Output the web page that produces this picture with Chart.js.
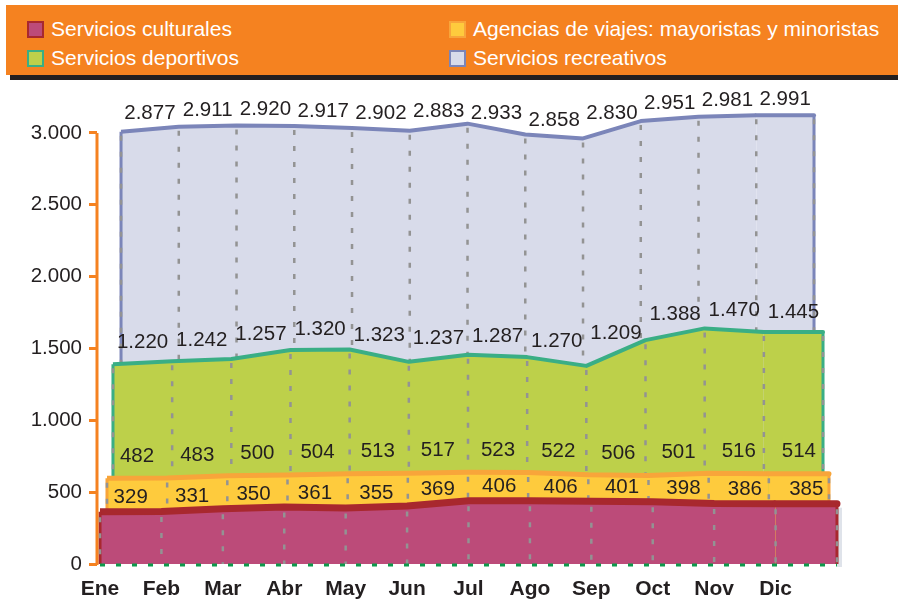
<!DOCTYPE html>
<html lang="es">
<head>
<meta charset="utf-8">
<script src="https://cdn.jsdelivr.net/npm/chart.js@4.4.1/dist/chart.umd.min.js"></script>
<style>
    html, body {
        margin: 0;
        padding: 0;
        background: #ffffff;
    }
    #page {
        position: relative;
        width: 898px;
        height: 600px;
        overflow: hidden;
        font-family: "Liberation Sans", Arial, sans-serif;
    }
    #chart {
        position: absolute;
        left: 0;
        top: 0;
    }
    #head {
        position: absolute;
        left: 6px;
        top: 5px;
        width: 892px;
        height: 70px;
        background: #f58220;
        z-index: 2;
    }
    #headBar {
        position: absolute;
        left: 10px;
        top: 74px;
        width: 888px;
        height: 6px;
        background: #231f20;
        z-index: 1;
    }
    .item {
        position: absolute;
        display: flex;
        align-items: center;
        color: #ffffff;
        font-size: 21px;
        line-height: 24px;
        white-space: nowrap;
    }
    .swatch {
        width: 13px;
        height: 13px;
        border: 2px solid;
        margin-right: 7px;
    }
</style>
</head>
<body>
<div id="page">
    <div id="headBar"></div>
    <div id="head"></div>
    <canvas id="chart" width="898" height="600"></canvas>
</div>
<script>
    const months = ["Ene", "Feb", "Mar", "Abr", "May", "Jun", "Jul", "Ago", "Sep", "Oct", "Nov", "Dic"];
    const seriesNames = ["Servicios culturales", "Agencias de viajes: mayoristas y minoristas", "Servicios deportivos", "Servicios recreativos"];

    const culturales = [329, 331, 350, 361, 355, 369, 406, 406, 401, 398, 386, 385];
    const agencias = [482, 483, 500, 504, 513, 517, 523, 522, 506, 501, 516, 514];
    const deportivos = [1220, 1242, 1257, 1320, 1323, 1237, 1287, 1270, 1209, 1388, 1470, 1445];
    const recreativos = [2877, 2911, 2920, 2917, 2902, 2883, 2933, 2858, 2830, 2951, 2981, 2991];

    const yTicks = [0, 500, 1000, 1500, 2000, 2500, 3000];

    // pseudo 3D: every layer sits a bit further back (shifted right / up, narrower)
    const layers = [
        { fill: "#bc4b79", edge: "#a8282e", width: 7, xMin: -0.049, xMax: 12.049, yMin: -35, yMax: 3125, labelLift: 14 },
        { fill: "#fecb3d", edge: "#f8a53a", width: 5, xMin: -0.166, xMax: 12.183, yMin: -115, yMax: 3045, labelLift: 22 },
        { fill: "#bdd04a", edge: "#3aae85", width: 4, xMin: -0.270, xMax: 12.287, yMin: -170, yMax: 2990, labelLift: 20 },
        { fill: "#d8dbea", edge: "#7b85b9", width: 4, xMin: -0.416, xMax: 12.450, yMin: -132, yMax: 3028, labelLift: 16 }
    ];
    const seriesValues = [culturales, agencias, deportivos, recreativos];

    const fmt = v => String(v).replace(/\B(?=(\d{3})+(?!\d))/g, ".");

    // legend header
    const head = document.getElementById("head");
    seriesNames.forEach((name, i) => {
        const item = document.createElement("div");
        item.className = "item";
        item.style.left = (i % 2 === 0 ? 21 : 443) + "px";
        item.style.top = (i < 2 ? 12 : 41) + "px";
        const sw = document.createElement("span");
        sw.className = "swatch";
        sw.style.background = layers[i].fill;
        sw.style.borderColor = layers[i].edge;
        item.appendChild(sw);
        item.appendChild(document.createTextNode(name));
        head.appendChild(item);
    });

    const layerPlugin = {
        id: "layerPlugin",
        beforeDatasetDraw(chart, args) {
            // the last value is held flat up to the end of its band
            const style = layers[args.index];
            const pts = args.meta.data;
            const xs = chart.scales[args.meta.xAxisID];
            const last = pts[pts.length - 1];
            const xEnd = xs.getPixelForValue(pts.length);
            const ctx = chart.ctx;
            ctx.save();
            ctx.fillStyle = style.fill;
            ctx.fillRect(last.x, last.y, xEnd - last.x, chart.chartArea.bottom - last.y);
            if (args.index === 0) {
                // side face of the front layer
                ctx.fillStyle = "#dfe3ea";
                ctx.fillRect(xEnd, last.y + 4, 5, chart.chartArea.bottom - last.y - 1);
            }
            ctx.restore();
        },
        afterDatasetDraw(chart, args) {
            const style = layers[args.index];
            const pts = args.meta.data;
            const xs = chart.scales[args.meta.xAxisID];
            const first = pts[0];
            const last = pts[pts.length - 1];
            const xEnd = xs.getPixelForValue(pts.length);
            const bottom = chart.chartArea.bottom;
            const ctx = chart.ctx;
            ctx.save();
            ctx.lineCap = "round";
            ctx.strokeStyle = style.edge;
            ctx.lineWidth = style.width;
            ctx.beginPath();
            ctx.moveTo(last.x, last.y);
            ctx.lineTo(xEnd, last.y);
            ctx.stroke();

            ctx.lineCap = "butt";
            ctx.lineWidth = 3;
            ctx.beginPath();
            ctx.moveTo(first.x, first.y);
            ctx.lineTo(first.x, bottom);
            ctx.moveTo(xEnd, last.y);
            ctx.lineTo(xEnd, bottom);
            ctx.stroke();

            ctx.setLineDash([5, 11]);
            ctx.strokeStyle = "#939393";
            ctx.lineWidth = 2.5;
            for (let i = 0; i <= pts.length; i++) {
                const x = xs.getPixelForValue(i);
                const y = (i < pts.length ? pts[i].y : last.y) + style.width / 2 + 2;
                ctx.beginPath();
                ctx.moveTo(x, y);
                ctx.lineTo(x, bottom);
                ctx.stroke();
            }
            ctx.restore();
        },
        afterDatasetsDraw(chart) {
            const ctx = chart.ctx;
            const area = chart.chartArea;
            const yMain = chart.scales.y;
            const xFront = chart.scales.xRed;
            ctx.save();

            // orange value axis line
            ctx.strokeStyle = "#f58220";
            ctx.lineWidth = 3;
            ctx.beginPath();
            ctx.moveTo(area.left, yMain.getPixelForValue(0) + 1);
            ctx.lineTo(area.left, yMain.getPixelForValue(yTicks[yTicks.length - 1]));
            ctx.stroke();

            // floor line
            ctx.strokeStyle = "#0d9a4c";
            ctx.setLineDash([5, 11]);
            ctx.beginPath();
            ctx.moveTo(xFront.getPixelForValue(0), area.bottom + 1);
            ctx.lineTo(xFront.getPixelForValue(months.length), area.bottom + 1);
            ctx.stroke();
            ctx.setLineDash([]);

            // value labels
            ctx.fillStyle = "#231f20";
            ctx.font = "20.5px 'Liberation Sans', Arial, sans-serif";
            ctx.textAlign = "center";
            ctx.textBaseline = "middle";
            chart.data.datasets.forEach((ds, d) => {
                const meta = chart.getDatasetMeta(d);
                const xs = chart.scales[meta.xAxisID];
                const pts = meta.data;
                ds.data.forEach((p, i) => {
                    const next = i + 1 < pts.length ? pts[i + 1] : pts[i];
                    const x = xs.getPixelForValue(i + 0.5);
                    const y = (pts[i].y + next.y) / 2 - layers[d].labelLift;
                    ctx.fillText(fmt(p.y), x, y);
                });
            });
            ctx.restore();
        }
    };

    const axisIds = ["Red", "Yellow", "Green", "Blue"];

    const datasets = seriesValues.map((values, i) => ({
        label: seriesNames[i],
        data: values.map((v, j) => ({ x: j, y: v })),
        xAxisID: "x" + axisIds[i],
        yAxisID: "y" + axisIds[i],
        backgroundColor: layers[i].fill,
        borderColor: layers[i].edge,
        borderWidth: layers[i].width,
        borderJoinStyle: "round",
        fill: "start",
        tension: 0,
        pointRadius: 0,
        clip: false
    }));

    const scales = {
        x: {
            type: "linear",
            position: "bottom",
            min: layers[0].xMin,
            max: layers[0].xMax,
            afterBuildTicks: axis => {
                axis.ticks = months.map((m, i) => ({ value: i }));
            },
            afterFit: axis => {
                axis.height = 36;
            },
            grid: { display: false },
            border: { display: false },
            ticks: {
                callback: value => months[value],
                autoSkip: false,
                maxRotation: 0,
                padding: 5,
                color: "#231f20",
                font: { family: "'Liberation Sans', Arial, sans-serif", size: 21, weight: "bold" }
            }
        },
        y: {
            type: "linear",
            position: "left",
            min: 0,
            max: 3160,
            afterBuildTicks: axis => {
                axis.ticks = yTicks.map(v => ({ value: v }));
            },
            afterFit: axis => {
                axis.width = 97;
            },
            grid: {
                drawOnChartArea: false,
                color: "#f58220",
                lineWidth: 3,
                tickLength: 8
            },
            border: { display: false },
            ticks: {
                callback: value => fmt(value),
                padding: 7,
                color: "#231f20",
                font: { family: "'Liberation Sans', Arial, sans-serif", size: 20.5 }
            }
        }
    };

    layers.forEach((style, i) => {
        scales["x" + axisIds[i]] = { type: "linear", axis: "x", display: false, min: style.xMin, max: style.xMax };
        scales["y" + axisIds[i]] = { type: "linear", axis: "y", display: false, min: style.yMin, max: style.yMax };
    });

    new Chart(document.getElementById("chart"), {
        type: "line",
        data: { datasets: datasets },
        options: {
            responsive: false,
            animation: false,
            events: [],
            layout: {
                padding: { top: 110, right: 58, bottom: 0, left: 0 }
            },
            plugins: {
                legend: { display: false },
                tooltip: { enabled: false }
            },
            scales: scales
        },
        plugins: [layerPlugin]
    });
</script>
</body>
</html>
